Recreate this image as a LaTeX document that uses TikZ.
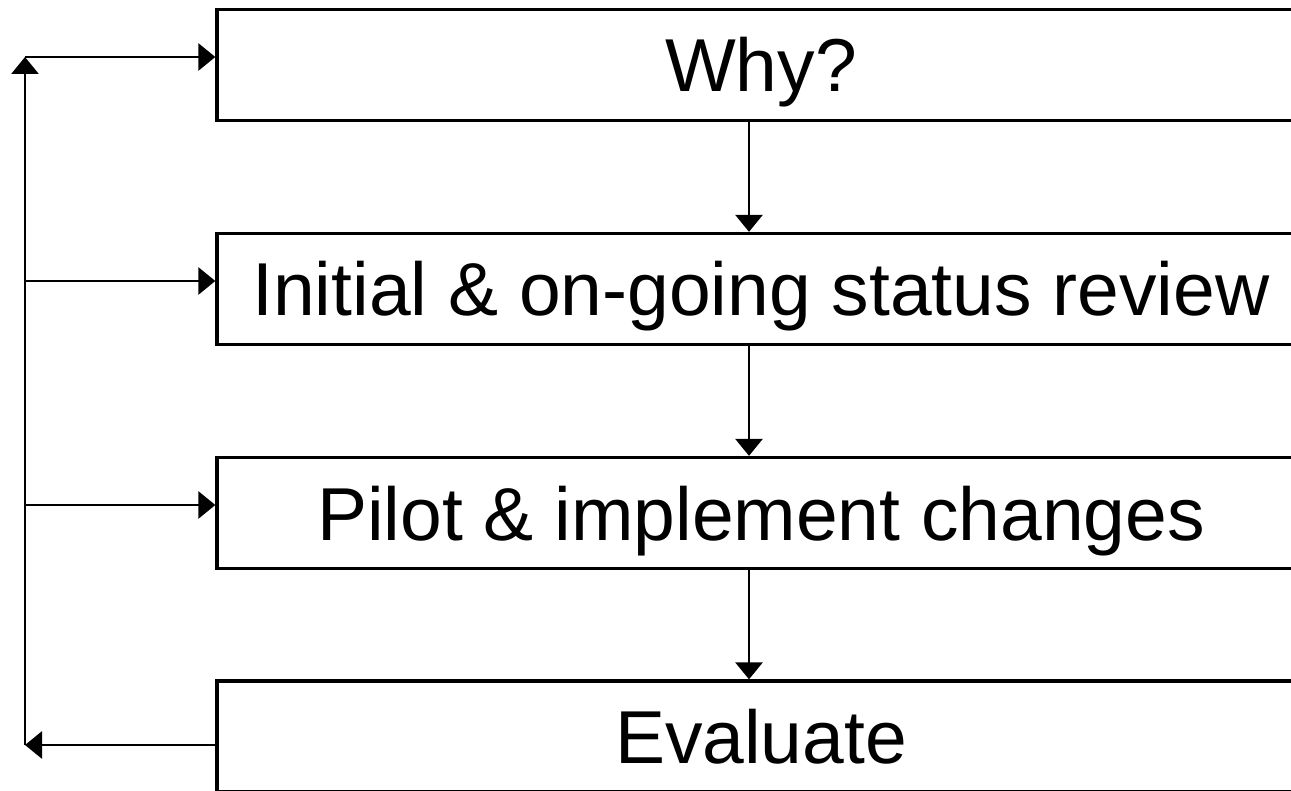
\documentclass[tikz,border=0pt]{standalone}
\usepackage{fontspec}
\setmainfont{Liberation Sans}
\usetikzlibrary{arrows.meta}
\begin{document}
\begin{tikzpicture}[x=1pt,y=-1pt,
  stepbox/.style={draw=black,line width=3.3pt,fill=white,minimum width=1088pt,minimum height=111pt,
    inner sep=0pt,text height=54pt,text depth=0pt,font=\fontsize{75}{80}\selectfont},
  conn/.style={line width=2.9pt,-{Triangle[length=17pt,width=27pt]}}]
\useasboundingbox (0,0) rectangle (1291,791);
\fill[white] (0,0) rectangle (1291,791);
\node[stepbox] (b1) at (761,65) {Why?};
\node[stepbox] (b2) at (761,289) {Initial \& on-going status review};
\node[stepbox] (b3) at (761,513) {Pilot \& implement changes};
\node[stepbox] (b4) at (761,736.5) {Evaluate};
\coordinate (mid) at (749,0);
\coordinate (t1) at (25,57);
\coordinate (t2) at (25,281);
\coordinate (t3) at (25,505);
\coordinate (t4) at (25,745);
\draw[conn] (b1.south -| mid) -- (b2.north -| mid);
\draw[conn] (b2.south -| mid) -- (b3.north -| mid);
\draw[conn] (b3.south -| mid) -- (b4.north -| mid);
\draw[conn] (t4 -| b4.west) -- (t4);
\draw[conn] (t4) -- (t1);
\draw[conn] (t1) -- (t1 -| b1.west);
\draw[conn] (t2) -- (t2 -| b2.west);
\draw[conn] (t3) -- (t3 -| b3.west);
\end{tikzpicture}
\end{document}
